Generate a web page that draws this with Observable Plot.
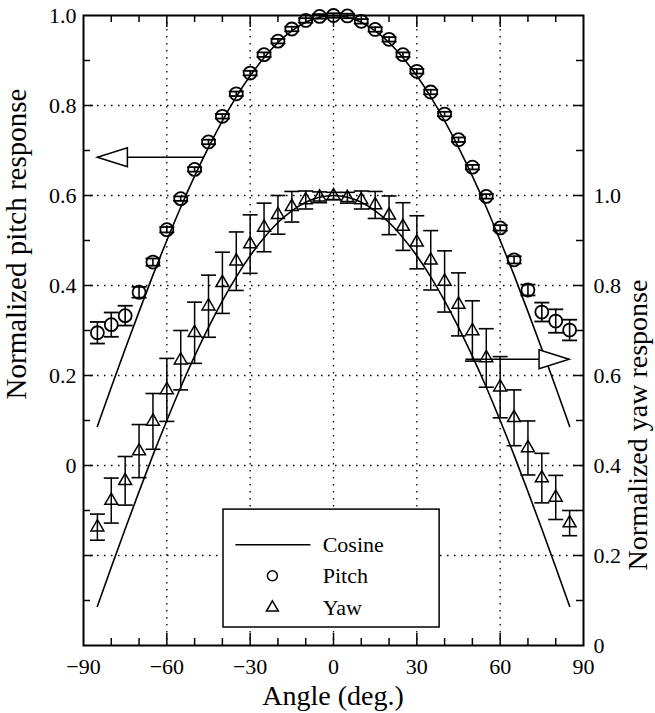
<!DOCTYPE html>
<html><head><meta charset="utf-8">
<script src="https://cdn.jsdelivr.net/npm/d3@7"></script>
<script src="https://cdn.jsdelivr.net/npm/@observablehq/plot@0.6"></script>
<style>
body{margin:0;background:#fff}
#chart{position:relative;width:655px;height:713px}
#chart svg, #chart svg text{font-family:"Liberation Serif","Times New Roman",serif !important;}
</style>
</head><body><div id="chart"></div>
<script>
// ---- data ----
const angles = [-85,-80,-75,-70,-65,-60,-55,-50,-45,-40,-35,-30,-25,-20,-15,-10,-5,0,5,10,15,20,25,30,35,40,45,50,55,60,65,70,75,80,85];
const pitchValues = [0.295,0.313,0.333,0.385,0.452,0.524,0.593,0.658,0.719,0.776,0.826,0.872,0.913,0.943,0.970,0.989,0.998,1.0,0.999,0.987,0.969,0.947,0.913,0.876,0.830,0.781,0.724,0.663,0.598,0.528,0.457,0.390,0.341,0.321,0.301];
const pitchErrors = [0.024,0.027,0.022,0.012,0.008,0.006,0.005,0.005,0.005,0.005,0.005,0.005,0.005,0.005,0.005,0.005,0.005,0.005,0.005,0.005,0.005,0.005,0.005,0.005,0.005,0.005,0.005,0.005,0.005,0.006,0.008,0.012,0.021,0.026,0.023];
const yawValues = [0.263,0.322,0.366,0.432,0.498,0.568,0.634,0.695,0.754,0.806,0.854,0.892,0.929,0.957,0.975,0.990,0.996,0.999,0.995,0.990,0.979,0.956,0.931,0.896,0.856,0.809,0.758,0.699,0.639,0.574,0.506,0.439,0.372,0.329,0.272];
const yawErrors = [0.029,0.050,0.054,0.059,0.062,0.070,0.066,0.068,0.069,0.068,0.065,0.065,0.054,0.043,0.034,0.020,0.012,0.008,0.012,0.020,0.030,0.043,0.053,0.059,0.066,0.068,0.070,0.067,0.065,0.068,0.062,0.060,0.055,0.049,0.028];
const cosineValues = [0.087,0.174,0.259,0.342,0.423,0.500,0.574,0.643,0.707,0.766,0.819,0.866,0.906,0.940,0.966,0.985,0.996,1.000,0.996,0.985,0.966,0.940,0.906,0.866,0.819,0.766,0.707,0.643,0.574,0.500,0.423,0.342,0.259,0.174,0.087];
const xTickLabels = [-90,-60,-30,0,30,60,90];
const xMajorTicks = [-60,-30,0,30,60];
const xMinorTicks = [-80,-70,-50,-40,-20,-10,10,20,40,50,70,80];
const leftTickLabels = [0,0.2,0.4,0.6,0.8,1.0];
const rightTickLabels = [0,0.2,0.4,0.6,0.8,1.0];
const yMajorTicks = [-0.2,0,0.2,0.4,0.6,0.8];
const yMinorTicks = [-0.3,-0.1,0.1,0.3,0.5,0.7,0.9];
const yawOffset = 0.4; // right axis value = left axis value + 0.4
const arrowsLeft = [{from:-46.7, to:-85, y:0.685}];      // pitch arrow (left units)
const arrowsRight = [{from:47.5, to:84.8, y:0.636}];     // yaw arrow (right units)
const legendLabels = ["Cosine","Pitch","Yaw"];
const titles = {x:"Angle (deg.)", left:"Normalized pitch response", right:"Normalized yaw response"};

// ---- layout ----
const W=655, H=713, mL=83, mR=72, mT=15, mB=68;
const plotW=W-mL-mR, plotH=H-mT-mB;
const FONT="Liberation Serif";

const pitch = angles.map((a,i)=>({a, v:pitchValues[i], e:pitchErrors[i]}));
const yaw = angles.map((a,i)=>({a, v:yawValues[i]-yawOffset, e:yawErrors[i]}));
const cosP = angles.map((a,i)=>({a, v:cosineValues[i]}));
const cosY = angles.map((a,i)=>({a, v:cosineValues[i]-yawOffset}));
const arrows = [
  ...arrowsLeft.map(d=>({...d})),
  ...arrowsRight.map(d=>({...d, y:d.y-yawOffset}))
];

const capSymbol = {draw(ctx){ctx.moveTo(-7.5,0);ctx.lineTo(7.5,0);}};
const headSymbol = {draw(ctx){ctx.moveTo(0,0);ctx.lineTo(-30,-9.5);ctx.lineTo(-30,9.5);ctx.closePath();}};

// legend layout (data coords inside the frame)
const LG = {x1:-39.6, x2:38.2, y1:-0.098, y2:-0.36, lineX1:-35.3, lineX2:-8.3, markX:-22, textX:-3.9, rows:[-0.176,-0.245,-0.316]};
const legendRows = legendLabels.map((t,i)=>({t, y:LG.rows[i]}));

const fmt1 = d => Math.abs(d) < 1e-9 ? "0" : d.toFixed(1);

const chart = Plot.plot({
  width:W, height:H,
  marginLeft:mL, marginRight:mR, marginTop:mT, marginBottom:mB,
  style:{fontFamily:FONT, fontSize:"22px", color:"black", background:"white"},
  x:{domain:[-90,90]},
  y:{domain:[-0.4,1.0]},
  marks:[
    Plot.gridX({ticks:xMajorTicks, stroke:"black", strokeOpacity:1, strokeWidth:1.3, strokeDasharray:"1.5,5.5"}),
    Plot.gridY({ticks:yMajorTicks, stroke:"black", strokeOpacity:1, strokeWidth:1.3, strokeDasharray:"1.5,5.5"}),
    Plot.rect([LG], {x1:"x1", x2:"x2", y1:"y1", y2:"y2", fill:"white", stroke:"black", strokeWidth:1.5}),
    Plot.line(cosP, {x:"a", y:"v", curve:"natural", stroke:"black", strokeWidth:1.6}),
    Plot.line(cosY, {x:"a", y:"v", curve:"natural", stroke:"black", strokeWidth:1.6}),
    Plot.link(arrows, {x1:"from", x2:"to", y1:"y", y2:"y", stroke:"black", strokeWidth:1.6}),
    Plot.dot(arrows, {x:"to", y:"y", symbol:headSymbol, rotate:d=>d.to<d.from?180:0, fill:"white", stroke:"black", strokeWidth:1.5}),
    Plot.ruleX(pitch, {x:"a", y1:d=>d.v-d.e, y2:d=>d.v+d.e, stroke:"black", strokeWidth:1.6}),
    Plot.dot(pitch, {x:"a", y:d=>d.v-d.e, symbol:capSymbol, fill:"none", stroke:"black", strokeWidth:1.8}),
    Plot.dot(pitch, {x:"a", y:d=>d.v+d.e, symbol:capSymbol, fill:"none", stroke:"black", strokeWidth:1.8}),
    Plot.dot(pitch, {x:"a", y:"v", r:6.5, fill:"none", stroke:"black", strokeWidth:1.8}),
    Plot.ruleX(yaw, {x:"a", y1:d=>d.v-d.e, y2:d=>d.v+d.e, stroke:"black", strokeWidth:1.5}),
    Plot.dot(yaw, {x:"a", y:d=>d.v-d.e, symbol:capSymbol, fill:"none", stroke:"black", strokeWidth:1.6}),
    Plot.dot(yaw, {x:"a", y:d=>d.v+d.e, symbol:capSymbol, fill:"none", stroke:"black", strokeWidth:1.6}),
    Plot.dot(yaw, {x:"a", y:"v", symbol:"triangle", r:4.8, fill:"none", stroke:"black", strokeWidth:1.5}),
    Plot.link([legendRows[0]], {x1:()=>LG.lineX1, x2:()=>LG.lineX2, y1:"y", y2:"y", stroke:"black", strokeWidth:1.6}),
    Plot.dot([legendRows[1]], {x:()=>LG.markX, y:"y", r:5, fill:"none", stroke:"black", strokeWidth:1.5}),
    Plot.dot([legendRows[2]], {x:()=>LG.markX, y:"y", symbol:"triangle", r:4.4, fill:"none", stroke:"black", strokeWidth:1.5}),
    Plot.text(legendRows, {x:()=>LG.textX, y:"y", text:"t", textAnchor:"start", fontSize:22, fontFamily:FONT, fill:"black"}),
    Plot.frame({stroke:"black", strokeWidth:2}),
    Plot.tickX(xMajorTicks, {x:d=>d, insetTop:plotH-12, stroke:"black", strokeWidth:1.5}),
    Plot.tickX(xMajorTicks, {x:d=>d, insetBottom:plotH-12, stroke:"black", strokeWidth:1.5}),
    Plot.tickX(xMinorTicks, {x:d=>d, insetTop:plotH-7, stroke:"black", strokeWidth:1.5}),
    Plot.tickX(xMinorTicks, {x:d=>d, insetBottom:plotH-7, stroke:"black", strokeWidth:1.5}),
    Plot.tickY(yMajorTicks, {y:d=>d, insetRight:plotW-10, stroke:"black", strokeWidth:1.5}),
    Plot.tickY(yMajorTicks, {y:d=>d, insetLeft:plotW-10, stroke:"black", strokeWidth:1.5}),
    Plot.tickY(yMinorTicks, {y:d=>d, insetRight:plotW-7, stroke:"black", strokeWidth:1.5}),
    Plot.tickY(yMinorTicks, {y:d=>d, insetLeft:plotW-7, stroke:"black", strokeWidth:1.5}),
    Plot.axisX({ticks:xTickLabels, tickSize:0, tickPadding:13, label:null, fontFamily:FONT,
      tickFormat:d=> d<0 ? "\u2212"+Math.abs(d) : String(d)}),
    Plot.axisY({anchor:"left", ticks:leftTickLabels, tickSize:0, tickPadding:7, label:null, fontFamily:FONT, tickFormat:fmt1}),
    Plot.axisY({anchor:"right", ticks:rightTickLabels.map(v=>v-yawOffset), tickSize:0, tickPadding:10, label:null, fontFamily:FONT,
      tickFormat:d=>fmt1(d+yawOffset)})
  ]
});
document.getElementById("chart").appendChild(chart);

// axis titles
const svg = d3.select(chart);
svg.append("text").attr("x", mL+plotW/2).attr("y", 705).attr("text-anchor","middle")
  .attr("font-family",FONT).attr("font-size",28).attr("fill","black").text(titles.x);
svg.append("text").attr("transform","translate(26,244) rotate(-90)").attr("text-anchor","middle")
  .attr("font-family",FONT).attr("font-size",29).attr("fill","black").text(titles.left);
svg.append("text").attr("transform","translate(647,425) rotate(-90)").attr("text-anchor","middle")
  .attr("font-family",FONT).attr("font-size",28).attr("fill","black").text(titles.right);
</script>
</body></html>
